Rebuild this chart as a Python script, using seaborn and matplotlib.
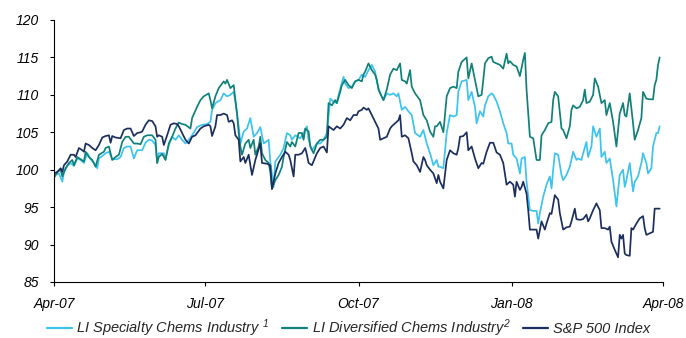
import pandas as pd
import matplotlib
matplotlib.use("Agg")
import matplotlib.pyplot as plt
import matplotlib.dates as mdates
import seaborn as sns

# Indexed performance, 1 Apr 2007 = day 0 (calendar days), base ~100
START = "2007-04-01"

series_names = [
    "LI Specialty Chems Industry $^{1}$",
    "LI Diversified Chems Industry$^{2}$",
    "S&P 500 Index",
]
series_colors = ["#3CC3EE", "#118078", "#1B2E5E"]

spec_days = [
    0, 3, 5, 6, 8, 10, 12, 14, 16, 18, 20, 22, 24, 26, 27, 30, 31, 33, 35, 38,
    40, 42, 44, 46, 48, 50, 53, 55, 57, 59, 61, 62, 63, 66, 67, 69, 71, 73, 75, 77,
    79, 81, 83, 86, 89, 92, 94, 95, 97,
    100, 102, 104, 106, 108, 109, 110, 111, 112, 114, 116, 118, 120, 122, 124, 126, 129, 130, 132, 133,
    136, 138, 140, 142, 143, 145, 148, 150, 152, 153, 155, 158, 160, 162, 164, 166, 168, 170, 171, 174,
    175, 177, 179, 181, 183, 185, 187, 189, 191, 193, 194, 196, 198, 200, 202, 204, 206, 207, 209, 211,
    213, 215, 217, 220, 222, 224, 226, 228, 230, 231,
    232, 234, 236, 238, 240, 242, 243, 245, 248, 249, 251, 253, 254, 256, 258, 259, 261, 263, 264, 266,
    268, 270, 272, 273, 275, 276, 278, 280, 281, 283, 284, 286, 288, 290, 291, 292, 294, 296, 298, 299,
    300, 301, 303, 305, 306, 308, 310, 312, 314, 315, 317, 318, 320, 321, 323, 324, 326, 328, 329, 331,
    332, 334, 336, 337, 338, 340, 342, 343, 344, 346, 348, 349, 351, 353, 354, 356, 357, 359, 360, 362,
    363, 364,
]
spec_vals = [
    99.3, 99.5, 98.4, 99.7, 100.5, 100.9, 100.5, 101.5, 101.3, 100.9, 102.2, 101.4, 100.9, 100.2, 101.5, 102.0, 102.2, 102.4, 101.4, 101.4,
    101.7, 102.9, 103.1, 103.1, 101.5, 102.6, 102.6, 103.6, 104.0, 103.9, 103.3, 100.9, 102.2, 102.2, 101.4, 103.3, 104.4, 104.0, 104.6, 104.0,
    103.5, 104.0, 104.6, 105.7, 106.0, 106.1, 106.4, 108.0, 108.9,
    109.3, 110.2, 109.8, 110.0, 110.4, 109.1, 107.5, 105.8, 103.5, 105.1, 105.5, 106.9, 104.4, 104.9, 105.7, 103.5, 104.0, 101.1, 97.7, 101.1,
    102.0, 102.9, 104.9, 104.6, 104.0, 104.6, 104.2, 104.9, 105.8, 104.0, 102.6, 103.5, 103.5, 104.0, 104.9, 109.5, 109.1, 108.9, 110.0, 112.4,
    111.5, 110.9, 111.1, 111.8, 112.0, 112.7, 112.4, 113.3, 114.0, 113.1, 111.8, 110.2, 109.3, 110.2, 110.0, 110.2, 109.8, 110.2, 108.0, 108.4,
    107.8, 107.3, 104.9, 104.4, 105.3, 103.5, 102.2, 100.6, 101.3, 100.4,
    100.4, 100.2, 104.9, 107.3, 107.1, 107.3, 110.4, 111.8, 112.0, 109.3, 110.4, 108.4, 106.2, 107.8, 107.1, 108.6, 109.8, 110.2, 110.0, 109.1,
    107.8, 106.2, 104.9, 103.5, 103.5, 102.0, 101.5, 99.5, 101.5, 101.7, 98.4, 94.6, 94.5, 94.5, 92.8, 94.2, 96.4, 98.0, 99.1, 97.5,
    100.0, 102.2, 102.0, 99.3, 98.6, 99.3, 100.4, 102.4, 101.3, 101.5, 101.3, 102.2, 103.7, 101.7, 103.1, 105.8, 104.4, 105.5, 101.7, 102.4,
    100.9, 101.5, 98.6, 96.8, 95.1, 99.3, 100.0, 97.7, 98.6, 100.9, 97.1, 98.4, 99.1, 100.9, 102.2, 100.9, 99.5, 100.2, 103.1, 104.9,
    104.9, 105.8,
]

div_days = [
    0, 2, 4, 5, 7, 9, 11, 12, 14, 16, 18, 19, 21, 23, 25, 27, 30, 31, 33, 35,
    37, 39, 41, 43, 45, 48, 50, 52, 54, 56, 59, 61, 62, 63, 65, 67, 69, 71, 73, 75,
    77, 79, 82, 83, 86, 88, 90, 93, 94, 95, 97, 99,
    102, 103, 104, 106, 108, 109, 110, 111, 112, 113, 115, 117, 118, 120, 121, 123, 124, 125, 127, 129,
    130, 131, 133, 135, 137, 138, 140, 142, 143, 145, 147, 149, 150, 151, 153, 154, 156, 158, 160, 162,
    164, 165, 167, 169, 170, 172, 173, 175, 177, 179, 181, 183, 185, 186, 187, 189, 191, 193, 194, 195,
    198, 200, 202, 204, 206, 208, 209, 211, 212, 214, 215, 217, 220, 222, 224, 226, 228, 229, 230, 232,
    234, 236, 238, 240, 242, 243, 245, 248, 249, 251, 253, 255, 257, 258, 259, 261, 263, 264, 266, 268,
    270, 272, 273, 274, 276, 278, 280, 282, 283, 284, 286, 288, 290, 292, 293, 295, 297, 299, 300, 301,
    303, 305, 306, 308, 310, 311, 312, 314, 316, 318, 319, 320, 322, 324, 325, 327, 329, 331, 332, 334,
    336, 338, 340, 342, 343, 344, 346, 348, 349, 351, 353, 354, 356, 358, 360, 361, 362, 363, 364,
]
div_vals = [
    98.9, 99.7, 100.0, 99.1, 100.2, 100.9, 101.3, 100.6, 101.7, 101.4, 101.1, 102.4, 101.7, 101.3, 100.4, 102.0, 102.4, 102.9, 103.1, 101.3,
    101.7, 102.0, 103.7, 104.4, 104.4, 103.5, 103.5, 103.4, 104.4, 104.6, 104.6, 104.0, 100.9, 101.7, 102.1, 101.3, 103.5, 104.4, 105.5, 106.3,
    106.1, 106.0, 105.5, 106.9, 108.4, 109.3, 109.8, 110.2, 109.3, 108.2, 109.8, 110.9,
    111.8, 111.5, 112.0, 110.9, 111.3, 109.3, 107.5, 104.9, 103.1, 102.0, 103.5, 104.0, 102.9, 104.0, 102.0, 103.1, 104.4, 102.2, 101.3, 100.9,
    99.7, 97.5, 98.6, 99.3, 100.4, 101.7, 103.7, 103.1, 103.7, 103.1, 104.9, 104.9, 104.0, 105.5, 105.1, 103.1, 102.2, 103.5, 104.0, 104.0,
    104.4, 108.9, 108.6, 109.3, 108.9, 110.4, 111.3, 112.0, 111.3, 110.9, 111.8, 112.0, 111.8, 112.7, 113.1, 114.2, 113.3, 112.7, 112.0, 110.7,
    109.3, 110.7, 112.7, 113.5, 113.3, 114.2, 112.0, 111.8, 111.5, 113.3, 111.1, 110.2, 109.3, 107.3, 106.6, 105.1, 104.4, 105.8, 105.8, 106.4,
    105.0, 109.8, 110.9, 111.1, 110.9, 113.1, 114.4, 115.0, 112.2, 114.2, 112.0, 109.8, 110.0, 112.0, 114.2, 114.9, 115.1, 114.4, 114.2, 114.0,
    113.5, 115.5, 114.2, 114.5, 114.0, 113.8, 112.5, 114.7, 115.6, 110.7, 104.4, 104.2, 101.3, 101.3, 104.6, 105.3, 106.2, 106.4, 109.3, 110.4,
    109.8, 105.5, 105.3, 104.2, 105.8, 108.0, 108.6, 108.2, 108.4, 109.3, 110.7, 108.9, 109.1, 110.0, 112.2, 111.1, 108.9, 109.3, 107.3, 108.9,
    106.4, 103.1, 107.5, 108.9, 107.3, 107.1, 110.2, 106.2, 104.0, 105.3, 106.9, 110.4, 109.5, 109.4, 109.4, 111.3, 112.0, 114.0, 115.0,
]

spx_days = [
    0, 2, 4, 5, 6, 8, 10, 12, 13, 15, 17, 18, 19, 21, 23, 25, 27, 29, 31, 33,
    34, 35, 37, 40, 42, 44, 46, 48, 50, 52, 53, 55, 57, 59, 61, 62, 63, 65, 66, 68,
    70, 72, 74, 75, 77, 79, 81, 83, 85, 88, 90, 93, 94, 95, 97, 98,
    100, 102, 104, 105, 107, 108, 109, 111, 112, 114, 115, 117, 118, 119, 121, 122, 124, 125, 128, 130,
    131, 133, 135, 137, 139, 141, 142, 144, 145, 147, 149, 151, 152, 153, 155, 158, 160, 162, 164, 165,
    168, 170, 172, 174, 176, 178, 180, 182, 183, 185, 186, 188, 189, 191, 193, 195, 196, 198, 200, 202,
    203, 205, 207, 208, 209, 211, 213, 215, 216, 218, 220, 222, 223, 224, 226, 228, 230, 231,
    232, 234, 236, 238, 240, 242, 243, 244, 246, 248, 249, 251, 253, 255, 257, 258, 260, 262, 264, 266,
    268, 270, 272, 274, 276, 277, 278, 280, 281, 282, 284, 285, 286, 288, 290, 291, 293, 295, 296, 298,
    299, 301, 303, 304, 306, 308, 310, 311, 313, 314, 316, 318, 320, 321, 322, 324, 326, 328, 329, 331,
    333, 334, 335, 337, 339, 340, 341, 342, 343, 344, 346, 347, 348, 350, 352, 354, 355, 356, 358, 360,
    361, 362, 364,
]
spx_vals = [
    99.5, 99.7, 100.2, 99.7, 100.6, 101.1, 102.0, 102.0, 101.7, 102.9, 102.6, 102.4, 103.5, 103.3, 102.9, 102.6, 103.3, 104.3, 104.5, 104.6,
    103.6, 104.5, 104.3, 104.2, 105.3, 105.5, 105.5, 104.5, 104.9, 105.0, 105.1, 106.0, 106.6, 106.5, 105.8, 104.4, 104.6, 104.4, 103.3, 104.6,
    106.0, 106.2, 106.1, 105.8, 104.9, 104.0, 103.5, 104.4, 104.6, 105.5, 105.8, 106.0, 105.8, 104.5, 105.8, 107.3,
    107.3, 107.5, 107.3, 106.4, 106.6, 106.2, 104.6, 104.0, 101.1, 101.7, 100.9, 102.0, 100.6, 99.3, 101.3, 102.0, 103.5, 100.9, 100.8, 100.6,
    97.4, 99.5, 100.9, 101.7, 102.4, 102.0, 101.3, 99.1, 102.0, 102.0, 102.2, 102.9, 102.0, 100.9, 100.6, 102.2, 102.9, 103.1, 102.3, 105.8,
    105.3, 105.8, 105.5, 106.0, 106.9, 106.6, 107.3, 107.3, 107.8, 108.0, 108.3, 108.0, 108.2, 107.3, 106.4, 105.5, 104.0, 104.2, 104.4, 105.5,
    105.8, 106.2, 106.6, 107.3, 104.4, 104.6, 104.2, 102.2, 101.1, 100.6, 99.7, 101.7, 101.3, 100.6, 100.0, 99.5, 98.2, 99.3,
    98.4, 97.5, 101.3, 102.6, 102.2, 102.0, 102.9, 104.4, 104.5, 105.0, 102.6, 103.1, 101.5, 100.2, 100.9, 100.8, 102.4, 103.6, 103.6, 102.3,
    102.0, 100.9, 98.0, 98.4, 98.0, 96.4, 98.4, 97.3, 97.7, 98.4, 96.8, 94.6, 92.0, 92.0, 92.0, 90.8, 93.1, 92.0, 92.8, 94.2,
    94.1, 96.6, 96.0, 94.2, 92.0, 92.3, 92.4, 93.1, 94.8, 93.4, 93.3, 93.4, 94.0, 93.1, 93.5, 94.6, 95.5, 94.6, 92.2, 92.2,
    92.0, 92.4, 90.4, 89.3, 88.3, 91.3, 90.8, 91.3, 88.8, 88.6, 88.5, 92.2, 92.0, 92.8, 93.5, 93.8, 92.2, 91.3, 91.5, 91.7,
    94.8, 94.8, 94.8,
]

y_ticks = [85, 90, 95, 100, 105, 110, 115, 120]

sns.set_theme(style="white")
plt.rcParams["font.family"] = ["Liberation Sans", "DejaVu Sans"]
plt.rcParams["font.style"] = "italic"
plt.rcParams["mathtext.fontset"] = "custom"
plt.rcParams["mathtext.rm"] = "Liberation Sans:italic"
plt.rcParams["mathtext.it"] = "Liberation Sans:italic"

frames = []
for name, days, vals in zip(series_names,
                            [spec_days, div_days, spx_days],
                            [spec_vals, div_vals, spx_vals]):
    frames.append(pd.DataFrame({
        "date": pd.Timestamp(START) + pd.to_timedelta(days, unit="D"),
        "value": vals,
        "series": name,
    }))
df = pd.concat(frames, ignore_index=True)

fig = plt.figure(figsize=(6.86, 3.38), dpi=100)
fig.patch.set_facecolor("white")
ax = fig.add_axes([54 / 686, 1 - 282 / 338, 609 / 686, 262 / 338])

sns.lineplot(
    data=df, x="date", y="value", hue="series", hue_order=series_names,
    palette=dict(zip(series_names, series_colors)),
    estimator=None, errorbar=None, linewidth=1.25, ax=ax,
)

ax.set_xlim(pd.Timestamp("2007-04-01"), pd.Timestamp("2008-04-01"))
ax.set_ylim(85, 120)
ax.set_yticks(y_ticks)
ax.xaxis.set_major_locator(mdates.MonthLocator(bymonth=[1, 4, 7, 10]))
ax.xaxis.set_major_formatter(mdates.DateFormatter("%b-%y"))
ax.set_xlabel("")
ax.set_ylabel("")
ax.grid(False)

for side in ["top", "right"]:
    ax.spines[side].set_visible(False)
for side in ["left", "bottom"]:
    ax.spines[side].set_color("black")
    ax.spines[side].set_linewidth(0.8)

ax.tick_params(axis="both", which="major", direction="out", length=3,
               width=0.8, color="black", labelcolor="black", labelsize=10, pad=8,
               bottom=True, left=True)

leg = ax.get_legend()
handles = leg.legend_handles
labels = [t.get_text() for t in leg.get_texts()]
leg.remove()
for h in handles:
    h.set_linewidth(1.6)

fig.legend(handles, labels, loc="center left",
           bbox_to_anchor=(47 / 686, 1 - 328 / 338), ncol=3, frameon=False,
           fontsize=10.5, handlelength=1.7, handletextpad=0.3,
           columnspacing=0.9, borderpad=0, borderaxespad=0)

fig.savefig("out.png", dpi=100, facecolor="white")
